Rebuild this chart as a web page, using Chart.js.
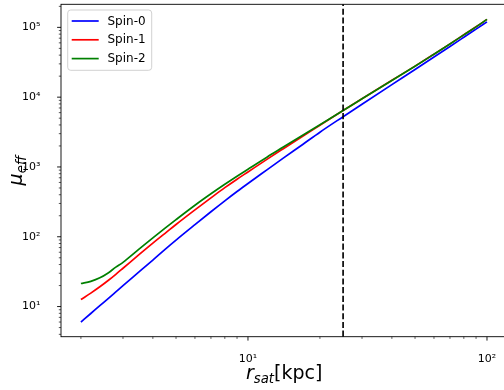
<!DOCTYPE html>
<html><head><meta charset="utf-8">
<script src="https://cdn.jsdelivr.net/npm/chart.js@4"></script>
<style>
html,body{margin:0;padding:0;background:#fff;overflow:hidden;width:504px;height:390px;}
#wrap{position:absolute;left:0;top:0;width:520px;height:390px;}
</style></head><body>
<div id="wrap"><canvas id="c" width="520" height="390"></canvas></div>
<script>
// ---- data ----
const rSat = [2, 2.2, 2.4, 2.6, 2.8, 3, 3.5, 4, 4.5, 5, 6, 7, 8, 9, 10, 12, 14, 17, 20, 25, 30, 40, 50, 60, 70, 80, 90, 100];
const spin0 = [6.0, 7.95, 10.3, 13.0, 16.2, 19.9, 31.3, 46.4, 66, 89.5, 149, 228, 327, 445, 580, 908, 1325, 2120, 3150, 5250, 7930, 15140, 24950, 37600, 53300, 72200, 94400, 120000];
const spin1 = [12.6, 15.6, 19.2, 23.6, 29.0, 35.4, 55.4, 81.0, 112, 150, 243, 361, 505, 668, 849, 1286, 1811, 2775, 3952, 6430, 9490, 17420, 27820, 41300, 57950, 78200, 101800, 130300];
const spin2 = [21.4, 23.0, 25.8, 30.3, 36.7, 43.0, 66.4, 96.3, 132.7, 176, 283, 413, 565, 737, 929, 1382, 1910, 2870, 4035, 6440, 9466, 17370, 27740, 41200, 57800, 78000, 101500, 130000];
const seriesNames = ['Spin-0', 'Spin-1', 'Spin-2'];
const seriesColors = ['#0000ff', '#ff0000', '#008000'];
const xTickValues = [2, 3, 4, 5, 6, 7, 8, 9, 10, 20, 30, 40, 50, 60, 70, 80, 90, 100];
const xMajorTicks = [10, 100];
const yTickValues = [4, 5, 6, 7, 8, 9, 10, 20, 30, 40, 50, 60, 70, 80, 90, 100, 200, 300, 400, 500, 600, 700, 800, 900,
  1000, 2000, 3000, 4000, 5000, 6000, 7000, 8000, 9000, 10000, 20000, 30000, 40000, 50000, 60000, 70000, 80000, 90000, 100000, 200000];
const yMajorTicks = [10, 100, 1000, 10000, 100000];
const vLineX = 25;
const xRange = [1.651, 121.6];
const yRange = [3.7, 214000];

const SUP = {'0':'⁰','1':'¹','2':'²','3':'³','4':'⁴','5':'⁵','6':'⁶','7':'⁷','8':'⁸','9':'⁹'};
function powLabel(v, majors) {
  if (!majors.includes(v)) return '';
  const e = Math.round(Math.log10(v));
  return '10' + String(e).split('').map(c => SUP[c]).join('');
}

const FONT = "'DejaVu Sans'";

const series = [spin0, spin1, spin2];
const datasets = series.map((s, i) => ({
  label: seriesNames[i],
  data: rSat.map((x, j) => ({x: x, y: s[j]})),
  borderColor: seriesColors[i],
  backgroundColor: seriesColors[i],
  borderWidth: 1.7,
  pointRadius: 0,
  cubicInterpolationMode: 'monotone',
  fill: false,
  order: 2 - i
}));

const decorPlugin = {
  id: 'decor',
  afterDatasetsDraw(chart) {
    const ctx = chart.ctx, a = chart.chartArea;
    const xs = chart.scales.x, ys = chart.scales.y;
    // dashed vertical line
    const vx = xs.getPixelForValue(vLineX);
    ctx.save();
    ctx.strokeStyle = '#000';
    ctx.lineWidth = 1.65;
    ctx.setLineDash([6.1, 2.6]);
    ctx.beginPath();
    ctx.moveTo(vx, a.bottom);
    ctx.lineTo(vx, a.top);
    ctx.stroke();
    ctx.restore();
    // frame
    ctx.save();
    ctx.strokeStyle = '#000';
    ctx.lineWidth = 0.9;
    ctx.strokeRect(a.left, a.top, a.right - a.left, a.bottom - a.top);
    // tick marks
    xs.ticks.forEach(t => {
      const p = xs.getPixelForValue(t.value);
      if (p < a.left - 0.5 || p > a.right + 0.5) return;
      const maj = xMajorTicks.includes(t.value);
      ctx.lineWidth = maj ? 0.9 : 0.65;
      ctx.beginPath();
      ctx.moveTo(p, a.bottom);
      ctx.lineTo(p, a.bottom + (maj ? 3.9 : 2.2));
      ctx.stroke();
    });
    ys.ticks.forEach(t => {
      const p = ys.getPixelForValue(t.value);
      if (p < a.top - 0.5 || p > a.bottom + 0.5) return;
      const maj = yMajorTicks.includes(t.value);
      ctx.lineWidth = maj ? 0.9 : 0.65;
      ctx.beginPath();
      ctx.moveTo(a.left, p);
      ctx.lineTo(a.left - (maj ? 3.9 : 2.2), p);
      ctx.stroke();
    });
    ctx.restore();
    // legend
    ctx.save();
    const lx = 67.7, ly = 10, lw = 84, lh = 60.3;
    ctx.fillStyle = 'rgba(255,255,255,0.8)';
    ctx.strokeStyle = 'rgba(204,204,204,0.9)';
    ctx.lineWidth = 1;
    ctx.beginPath();
    ctx.roundRect(lx, ly, lw, lh, 3);
    ctx.fill();
    ctx.stroke();
    const rows = [21, 39.8, 58.6];
    chart.data.datasets.forEach((d, i) => {
      const y = rows[i];
      ctx.strokeStyle = d.borderColor;
      ctx.lineWidth = 1.7;
      ctx.beginPath();
      ctx.moveTo(71.7, y);
      ctx.lineTo(98.7, y);
      ctx.stroke();
      ctx.fillStyle = '#000';
      ctx.font = '12px ' + FONT;
      ctx.textBaseline = 'middle';
      ctx.textAlign = 'left';
      ctx.fillText(d.label, 107.5, y + 0.5);
    });
    ctx.restore();
  },
  afterDraw(chart) {
    const ctx = chart.ctx, a = chart.chartArea;
    function drawParts(parts, startX, baseY) {
      let x = startX;
      parts.forEach(p => {
        ctx.font = p.font;
        ctx.fillText(p.t, x, baseY + p.dy);
        x += ctx.measureText(p.t).width;
      });
    }
    function width(parts) {
      let w = 0;
      parts.forEach(p => { ctx.font = p.font; w += ctx.measureText(p.t).width; });
      return w;
    }
    ctx.save();
    ctx.fillStyle = '#000';
    ctx.textBaseline = 'alphabetic';
    ctx.textAlign = 'left';
    const xParts = [
      {t: 'r', font: 'italic 19px ' + FONT, dy: 0},
      {t: 'sat', font: 'italic 13.3px ' + FONT, dy: 3.8},
      {t: '[kpc]', font: '19px ' + FONT, dy: 0}
    ];
    const cx = (a.left + a.right) / 2;
    drawParts(xParts, cx - width(xParts) / 2, 379);
    const yParts = [
      {t: 'μ', font: 'italic 19px ' + FONT, dy: 0},
      {t: 'eff', font: 'italic 13.3px ' + FONT, dy: 3.8}
    ];
    const cy = (a.top + a.bottom) / 2;
    ctx.translate(22, cy);
    ctx.rotate(-Math.PI / 2);
    drawParts(yParts, -width(yParts) / 2, 0);
    ctx.restore();
  }
};

function zeroPad(s) { s.paddingLeft = 0; s.paddingRight = 0; s.paddingTop = 0; s.paddingBottom = 0; }

new Chart(document.getElementById('c'), {
  type: 'line',
  data: {datasets: datasets},
  options: {
    responsive: false,
    animation: false,
    devicePixelRatio: 1,
    layout: {padding: {left: 0, top: 4.3, right: 12.7, bottom: 0}},
    plugins: {legend: {display: false}, tooltip: {enabled: false}},
    scales: {
      x: {
        type: 'logarithmic', position: 'bottom',
        min: xRange[0], max: xRange[1],
        grid: {display: false}, border: {display: false},
        ticks: {
          autoSkip: false, maxRotation: 0, minRotation: 0, padding: 7.5, color: '#000',
          font: {family: 'DejaVu Sans', size: 11},
          callback: (v) => powLabel(v, xMajorTicks)
        },
        afterBuildTicks: (s) => { s.ticks = xTickValues.map(v => ({value: v})); },
        afterFit: (s) => { s.height = 53.3; zeroPad(s); }
      },
      y: {
        type: 'logarithmic', position: 'left',
        min: yRange[0], max: yRange[1],
        grid: {display: false}, border: {display: false},
        ticks: {
          autoSkip: false, padding: 12.5, color: '#000',
          font: {family: 'DejaVu Sans', size: 11},
          callback: (v) => powLabel(v, yMajorTicks)
        },
        afterBuildTicks: (s) => { s.ticks = yTickValues.map(v => ({value: v})); },
        afterFit: (s) => { s.width = 61; zeroPad(s); }
      }
    }
  },
  plugins: [decorPlugin]
});
</script>
</body></html>
